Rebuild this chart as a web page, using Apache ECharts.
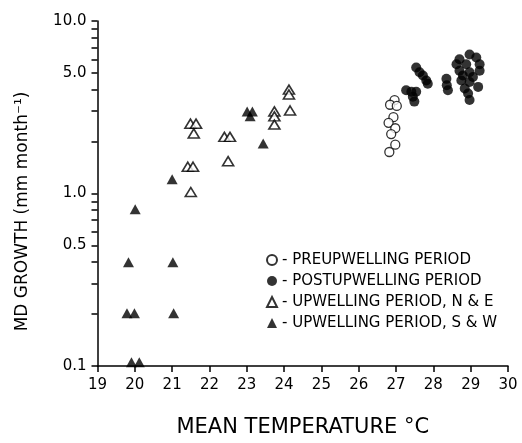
<!DOCTYPE html>
<html><head><meta charset="utf-8">
<script src="https://cdn.jsdelivr.net/npm/echarts@6/dist/echarts.min.js"></script>
<style>html,body{margin:0;padding:0;background:#fff}#c{width:522px;height:443px}</style>
</head><body><div id="c"></div>
<script>
// tick label values
const xMin = 19, xMax = 30;
const yLabelValues = [0.1, 0.5, 1, 5, 10];
const yTickValues = [0.1,0.2,0.3,0.4,0.5,0.6,0.7,0.8,0.9,1,2,3,4,5,6,7,8,9,10];

// PREUPWELLING PERIOD (open circles)
const preTemp   = [26.96, 26.84, 27.02, 26.93, 26.80, 26.98, 26.87, 26.98, 26.82];
const preGrowth = [3.48, 3.27, 3.22, 2.77, 2.57, 2.39, 2.21, 1.92, 1.74];

// POSTUPWELLING PERIOD (filled circles)
const postTemp   = [27.54,27.63,27.72,27.81,27.85, 27.27,27.41,27.54,27.45,27.49, 28.35,28.36,28.39,
                    28.70,28.97,29.15,28.62,28.88,29.24,28.70,28.97,29.24,28.79,29.06,28.75,28.97,28.84,29.20,28.93,28.97];
const postGrowth = [5.38,5.05,4.83,4.52,4.33, 3.97,3.89,3.89,3.64,3.41, 4.62,4.24,3.97,
                    6.0,6.4,6.14,5.62,5.62,5.62,5.15,5.05,5.15,4.83,4.73,4.52,4.43,4.06,4.15,3.80,3.48];

// UPWELLING PERIOD, N & E (open triangles)
const neTemp   = [21.49,21.64,21.58,21.42,21.56,21.50,22.40,22.55,22.50,23.74,23.74,23.74,24.13,24.13,24.16];
const neGrowth = [2.54,2.54,2.23,1.43,1.43,1.02,2.13,2.13,1.54,2.99,2.80,2.51,4.0,3.75,3.03];

// UPWELLING PERIOD, S & W (filled triangles)
const swTemp   = [23.01,23.15,23.09,23.44,21.00,20.01,19.83,21.02,19.79,19.99,21.04,19.91,20.12];
const swGrowth = [2.99,2.99,2.80,1.95,1.21,0.81,0.40,0.40,0.202,0.202,0.202,0.105,0.105];

const names = ['PREUPWELLING PERIOD','POSTUPWELLING PERIOD','UPWELLING PERIOD, N & E','UPWELLING PERIOD, S & W'];

const zip = (a, b) => a.map((v, i) => [v, b[i]]);
const FONT = 'DejaVu Sans';

const chart = echarts.init(document.getElementById('c'), null, {renderer: 'canvas'});
chart.setOption({
  animation: false,
  backgroundColor: '#fff',
  grid: {left: 97.5, right: 14, top: 21, bottom: 69, containLabel: false},
  legend: {
    orient: 'vertical', left: 261, top: 246, itemGap: 3, itemWidth: 10, itemHeight: 10,
    data: names,
    formatter: n => '- ' + n,
    textStyle: {fontFamily: FONT, fontSize: 15, lineHeight: 18, color: '#000'}
  },
  xAxis: {
    type: 'value', min: xMin, max: xMax, interval: 1,
    axisLine: {show: true, onZero: false, lineStyle: {color: '#000', width: 1.5}},
    axisTick: {show: true, length: 6, lineStyle: {color: '#000', width: 1.5}},
    splitLine: {show: false},
    axisLabel: {fontFamily: FONT, fontSize: 15, color: '#000', margin: 12},
    name: 'MEAN TEMPERATURE °C', nameLocation: 'middle', nameGap: 51,
    nameTextStyle: {fontFamily: FONT, fontSize: 21, color: '#000'}
  },
  yAxis: {
    type: 'log', logBase: 10, min: 0.1, max: 10,
    axisLine: {show: true, onZero: false, lineStyle: {color: '#000', width: 1.5}},
    axisTick: {show: true, length: 6, customValues: yTickValues, lineStyle: {color: '#000', width: 1.5}},
    splitLine: {show: false},
    minorTick: {show: false},
    axisLabel: {fontFamily: FONT, fontSize: 15, color: '#000', margin: 11,
      customValues: yLabelValues, formatter: v => Number(v).toFixed(1)},
    name: 'MD GROWTH (mm month⁻¹)', nameLocation: 'middle', nameGap: 66,
    nameTextStyle: {fontFamily: FONT, fontSize: 17, color: '#000', padding: [0, 36, 0, 0]}
  },
  series: [
    {name: names[0], type: 'scatter', symbol: 'circle', symbolSize: 9, data: zip(preTemp, preGrowth),
     itemStyle: {color: '#fff', borderColor: '#000', borderWidth: 1.3}},
    {name: names[1], type: 'scatter', symbol: 'circle', symbolSize: 10, data: zip(postTemp, postGrowth),
     itemStyle: {color: '#000', borderColor: '#000', borderWidth: 0}},
    {name: names[2], type: 'scatter', symbol: 'triangle', symbolSize: [11, 9], data: zip(neTemp, neGrowth),
     itemStyle: {color: '#fff', borderColor: '#000', borderWidth: 1.6}},
    {name: names[3], type: 'scatter', symbol: 'triangle', symbolSize: [11, 10], data: zip(swTemp, swGrowth),
     itemStyle: {color: '#000', borderColor: '#000', borderWidth: 0}}
  ]
});
</script>
</body></html>
